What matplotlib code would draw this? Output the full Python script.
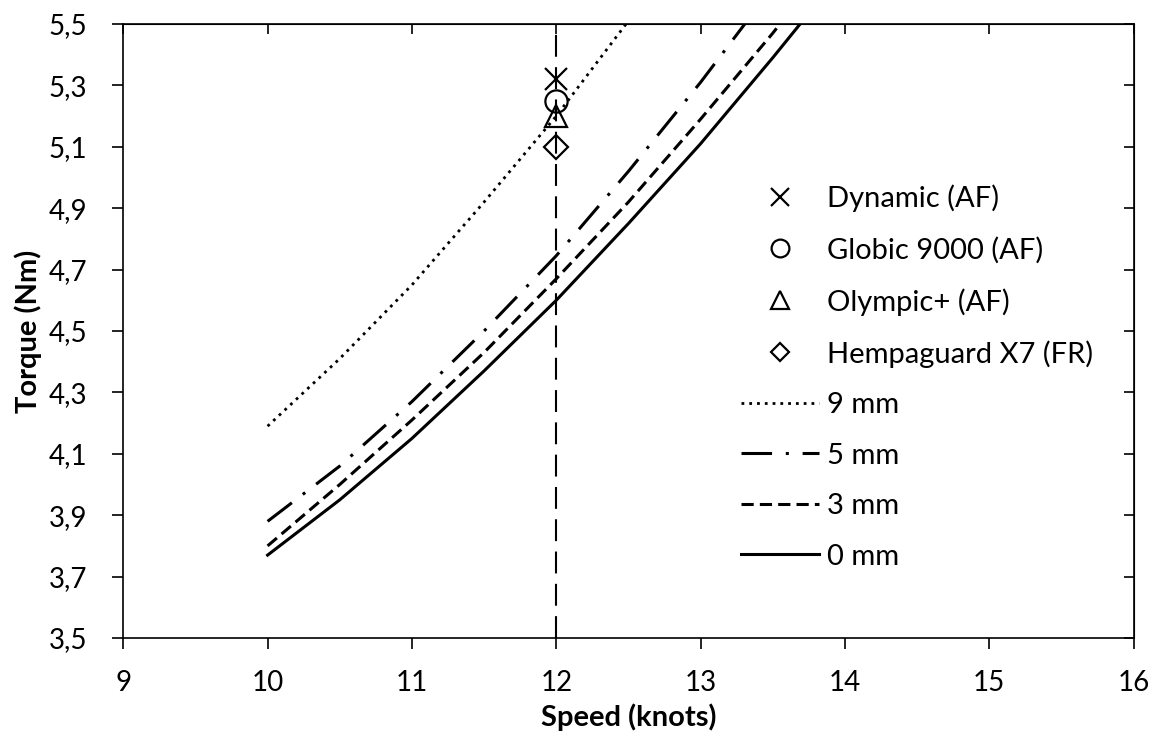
import matplotlib.pyplot as plt
from matplotlib.lines import Line2D
from matplotlib.ticker import FuncFormatter

# data
speed = [10, 10.5, 11, 11.5, 12, 12.5, 13, 13.5, 14]
torque_0mm = [3.77, 3.95, 4.15, 4.37, 4.60, 4.85, 5.11, 5.39, 5.68]
torque_3mm = [3.80, 4.00, 4.21, 4.43, 4.67, 4.92, 5.19, 5.47, 5.77]
torque_5mm = [3.88, 4.06, 4.27, 4.50, 4.745, 5.02, 5.31, 5.62, 5.95]
torque_9mm = [4.19, 4.41, 4.65, 4.92, 5.20, 5.51, 5.83, 6.17, 6.53]

coating_names = ["Dynamic (AF)", "Globic 9000 (AF)", "Olympic+ (AF)", "Hempaguard X7 (FR)"]
coating_speed = [12, 12, 12, 12]
coating_torque = [5.32, 5.25, 5.20, 5.10]
coating_markers = ["x", "o", "^", "D"]

design_speed = [12, 12]
design_range = [3.5, 5.5]

x_ticks = [9, 10, 11, 12, 13, 14, 15, 16]
y_ticks = [3.5, 3.7, 3.9, 4.1, 4.3, 4.5, 4.7, 4.9, 5.1, 5.3, 5.5]

plt.rcParams['font.family'] = ['Lato', 'DejaVu Sans']

fig = plt.figure(figsize=(11.52, 7.38), dpi=100)
ax = fig.add_axes([0.107, 0.1355, 0.877, 0.832])

styles = {
    "9 mm": dict(linestyle=(0, (1, 1.8)), linewidth=2.0),
    "5 mm": dict(linestyle=(0, (10, 4.5, 1, 4.5)), linewidth=2.2),
    "3 mm": dict(linestyle=(0, (4, 2)), linewidth=2.2),
    "0 mm": dict(linestyle="-", linewidth=2.2),
}
series = {"9 mm": torque_9mm, "5 mm": torque_5mm, "3 mm": torque_3mm, "0 mm": torque_0mm}

ax.plot(design_speed, design_range, color="black", linewidth=1.5,
        linestyle=(0, (10.5, 5)))

for name, vals in series.items():
    ax.plot(speed, vals, color="black", **styles[name])

marker_sizes = {"x": 16, "o": 16, "^": 16, "D": 12}
for name, xs, ys, m in zip(coating_names, coating_speed, coating_torque, coating_markers):
    ax.plot([xs], [ys], marker=m, markersize=marker_sizes[m], markerfacecolor="none",
            markeredgecolor="black", markeredgewidth=1.6, linestyle="none")

ax.set_xlim(9, 16)
ax.set_ylim(3.5, 5.5)
ax.set_xticks(x_ticks)
ax.set_yticks(y_ticks)
ax.yaxis.set_major_formatter(FuncFormatter(lambda v, p: f"{v:.1f}".replace(".", ",")))
ax.tick_params(direction="out", length=8, width=1.2, labelsize=20)
ax.tick_params(axis="y", pad=18)
ax.tick_params(axis="x", pad=15)
for s in ax.spines.values():
    s.set_linewidth(1.2)

top = ax.secondary_xaxis("top")
top.set_xticks(x_ticks)
top.tick_params(direction="in", length=7, width=1.2, labeltop=False)
right = ax.secondary_yaxis("right")
right.set_yticks(y_ticks)
right.tick_params(direction="in", length=7, width=1.2, labelright=False)

ax.set_xlabel("Speed (knots)", fontsize=21, fontweight="bold")
ax.set_ylabel("Torque (Nm)", fontsize=21, fontweight="bold")
ax.xaxis.set_label_coords(0.5, -0.107)
ax.yaxis.set_label_coords(-0.08, 0.5)

handles = []
for name, m in zip(coating_names, coating_markers):
    handles.append(Line2D([], [], marker=m, markersize=marker_sizes[m] * 0.8,
                          markerfacecolor="none", markeredgecolor="black",
                          markeredgewidth=1.6, linestyle="none", label=name))
for name in series:
    handles.append(Line2D([], [], color="black", label=name, **styles[name]))

fig.legend(handles=handles, loc="upper left", bbox_to_anchor=(0.643, 0.750),
           frameon=False, fontsize=21, handlelength=2.67, handletextpad=0.28,
           labelspacing=0.84, borderpad=0, borderaxespad=0)

fig.savefig("out.png", dpi=100)
